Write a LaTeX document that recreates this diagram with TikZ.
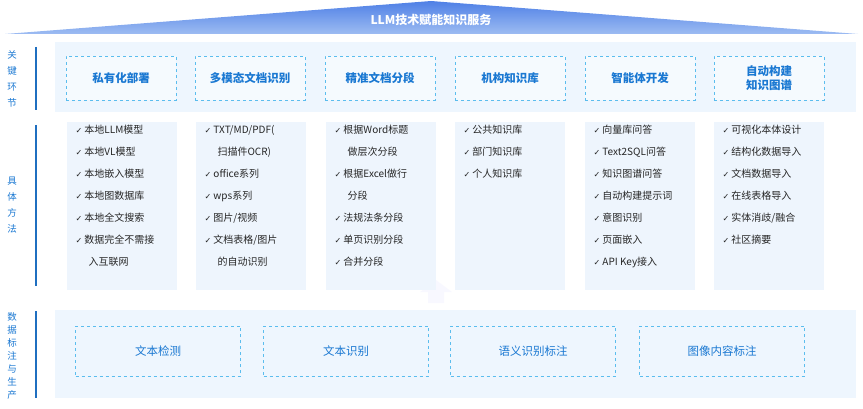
\documentclass[tikz,border=0pt]{standalone}
\usepackage{fontspec}
\setmainfont{Noto Sans CJK SC}
\newfontfamily\dv{DejaVu Sans}
\begin{document}
\begin{tikzpicture}[x=1pt,y=-1pt,
  bg/.style={fill=bgblue,draw=none},
  keybox/.style={draw=dashblue,dashed,line width=0.8pt,fill=white!40!bgblue,minimum width=110pt,minimum height=44pt,align=center,font=\fontsize{11.5}{14}\selectfont\bfseries,text=txtblue},
  databox/.style={draw=dashblue,dashed,line width=0.8pt,minimum width=165pt,minimum height=50pt,font=\fontsize{11.5}{13}\selectfont,text=txtblue},
  col/.style={fill=colblue,draw=none,minimum width=110pt,minimum height=168pt,anchor=north west},
  lst/.style={anchor=north west,align=left,font=\fontsize{10}{22}\selectfont,text=black!85},
  side/.style={font=\fontsize{9.5}{16}\selectfont,text=txtblue,align=center},
  bar/.style={draw=barblue,line width=2.5pt}]
\definecolor{bgblue}{HTML}{EEF6FE}
\definecolor{colblue}{HTML}{EEF5FD}
\definecolor{dashblue}{HTML}{5BBDEE}
\definecolor{txtblue}{HTML}{1A78D2}
\definecolor{barblue}{HTML}{1F6FC0}
\definecolor{bantop}{HTML}{4F80E6}
\definecolor{banbot}{HTML}{9DBCF2}
\useasboundingbox (0,0) rectangle (863,409);
% banner
\shade[top color=bantop,bottom color=banbot] (5,34) -- (431,1) -- (858,34) -- cycle;
\node[font=\fontsize{12}{14}\selectfont\bfseries,text=white] (ban) at (431,20) {LLM技术赋能知识服务};
% side labels
\node[side] (l1) at (12,79) {关\\键\\环\\节};
\node[side] (l2) at (12,205) {具\\体\\方\\法};
\node[side,font=\fontsize{9.5}{13}\selectfont] (l3) at (12,356) {数\\据\\标\\注\\与\\生\\产};
\draw[bar] (36,47) -- (36,110);
\draw[bar] (36,125) -- (36,286);
\draw[bar] (36,311) -- (36,398);
% row1
\fill[bgblue] (55,42) rectangle (856,112);
\foreach \x/\t/\n in {121/私有化部署/a,250/多模态文档识别/b,380/精准文档分段/c,510/机构知识库/d,640/智能体开发/e,769/自动构建\\知识图谱/f}
  \node[keybox] (k\n) at (\x,78) {\t};
% arrow
\fill[colblue!70!blue!8] (428,303) -- (428,292) -- (420,292) -- (436,280) -- (452,292) -- (444,292) -- (444,303) -- cycle;
% row2
\foreach \x/\n in {67/a,196/b,326/c,455/d,585/e,714/f}
  \node[col] (c\n) at (\x,122) {};
\newcommand{\ck}{{\dv\fontsize{8}{9}\selectfont ✓}\ }
\node[lst] (ta) at (72,122) {\ck 本地LLM模型\\\ck 本地VL模型\\\ck 本地嵌入模型\\\ck 本地图数据库\\\ck 本地全文搜索\\\ck 数据完全不需接\\\hspace*{13pt}入互联网};
\node[lst] (tb) at (201,122) {\ck TXT/MD/PDF(\\\hspace*{13pt}扫描件OCR)\\\ck office系列\\\ck wps系列\\\ck 图片/视频\\\ck 文档表格/图片\\\hspace*{13pt}的自动识别};
\node[lst] (tc) at (331,122) {\ck 根据Word标题\\\hspace*{13pt}做层次分段\\\ck 根据Excel做行\\\hspace*{13pt}分段\\\ck 法规法条分段\\\ck 单页识别分段\\\ck 合并分段};
\node[lst] (td) at (460,122) {\ck 公共知识库\\\ck 部门知识库\\\ck 个人知识库};
\node[lst] (te) at (590,122) {\ck 向量库问答\\\ck Text2SQL问答\\\ck 知识图谱问答\\\ck 自动构建提示词\\\ck 意图识别\\\ck 页面嵌入\\\ck API Key接入};
\node[lst] (tf) at (719,122) {\ck 可视化本体设计\\\ck 结构化数据导入\\\ck 文档数据导入\\\ck 在线表格导入\\\ck 实体消歧/融合\\\ck 社区摘要};
% row3
\fill[bgblue] (55,310) rectangle (856,398);
\foreach \x/\t/\n in {158/文本检测/a,346/文本识别/b,533/语义识别标注/c,722/图像内容标注/d}
  \node[databox] (d\n) at (\x,351) {\t};
\end{tikzpicture}
\end{document}
